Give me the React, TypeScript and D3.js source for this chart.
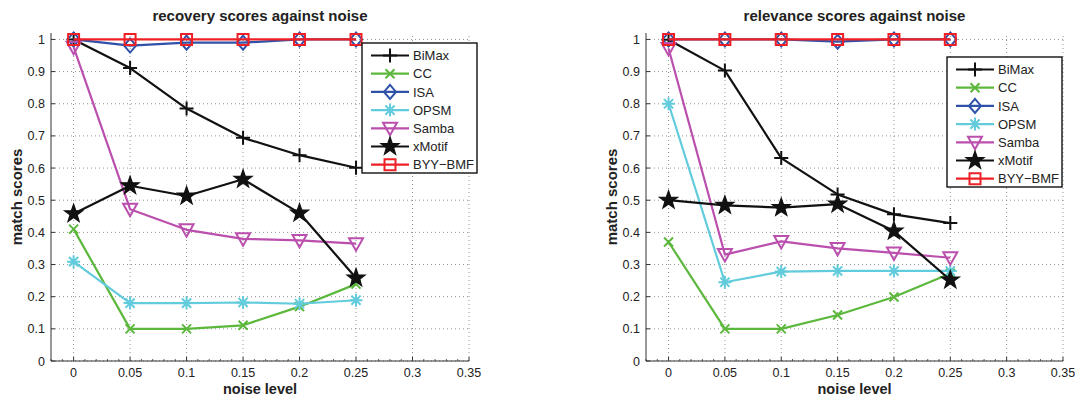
import React from 'react';
import * as d3 from 'd3';

// noise levels on the x axis
const noise = [0, 0.05, 0.1, 0.15, 0.2, 0.25];
const xTicks = [0, 0.05, 0.1, 0.15, 0.2, 0.25, 0.3, 0.35];
const yTicks = [0, 0.1, 0.2, 0.3, 0.4, 0.5, 0.6, 0.7, 0.8, 0.9, 1];
const seriesNames = ['BiMax', 'CC', 'ISA', 'OPSM', 'Samba', 'xMotif', 'BYY\u2212BMF'];

// recovery scores (left panel)
const recBiMax = [1, 0.911, 0.785, 0.694, 0.64, 0.601];
const recCC = [0.41, 0.1, 0.1, 0.111, 0.169, 0.239];
const recISA = [1, 0.981, 0.99, 0.99, 1, 1];
const recOPSM = [0.309, 0.18, 0.18, 0.182, 0.178, 0.189];
const recSamba = [0.976, 0.472, 0.408, 0.38, 0.375, 0.365];
const recXMotif = [0.458, 0.545, 0.513, 0.565, 0.46, 0.258];
const recBYY = [1, 1, 1, 1, 1, 1];

// relevance scores (right panel)
const relBiMax = [0.999, 0.903, 0.631, 0.518, 0.456, 0.429];
const relCC = [0.37, 0.1, 0.1, 0.143, 0.199, 0.272];
const relISA = [1, 1, 1, 0.993, 1, 1];
const relOPSM = [0.8, 0.245, 0.278, 0.28, 0.28, 0.28];
const relSamba = [0.972, 0.331, 0.372, 0.35, 0.336, 0.321];
const relXMotif = [0.5, 0.484, 0.477, 0.488, 0.404, 0.252];
const relBYY = [1, 1, 1, 1, 1, 1];

const colors = ['#111111', '#5cb83c', '#2f52a8', '#62cbdc', '#bb4fae', '#111111', '#ee2026'];
const markers = ['plus', 'cross', 'diamond', 'asterisk', 'triDown', 'star', 'square'];

const FONT = '"Liberation Sans", Arial, Helvetica, sans-serif';

function markerPath(kind: string): string {
  switch (kind) {
    case 'plus':
      return 'M-7,0H7M0,-7V7';
    case 'cross':
      return 'M-4.5,-4.5L4.5,4.5M-4.5,4.5L4.5,-4.5';
    case 'diamond':
      return 'M0,-7L6,0L0,7L-6,0Z';
    case 'asterisk': {
      const a = 4.6;
      return `M-6.5,0H6.5M0,-6.5V6.5M${-a},${-a}L${a},${a}M${-a},${a}L${a},${-a}`;
    }
    case 'triDown':
      return 'M-7,-5.5L7,-5.5L0,7Z';
    case 'square':
      return 'M-5.5,-5.5H5.5V5.5H-5.5Z';
    case 'star': {
      const pts: string[] = [];
      for (let i = 0; i < 10; i++) {
        const r = i % 2 === 0 ? 9.5 : 3.8;
        const ang = -Math.PI / 2 + (i * Math.PI) / 5;
        pts.push(`${(r * Math.cos(ang)).toFixed(2)},${(r * Math.sin(ang)).toFixed(2)}`);
      }
      return 'M' + pts.join('L') + 'Z';
    }
  }
  return '';
}

function Marker({ kind, color, x, y }: { kind: string; color: string; x: number; y: number }) {
  const fill = kind === 'star' ? color : 'none';
  return (
    <path
      d={markerPath(kind)}
      transform={`translate(${x},${y})`}
      fill={fill}
      stroke={color}
      strokeWidth={kind === 'star' ? 1.2 : 2}
      strokeLinejoin="miter"
    />
  );
}

interface PanelProps {
  title: string;
  series: number[][];
  left: number;
  right: number;
  legendX: number;
  legendY: number;
}

function Panel({ title, series, left, right, legendX, legendY }: PanelProps) {
  const top = 33;
  const bottom = 361;
  const x = d3.scaleLinear().domain([-0.02, 0.35]).range([left, right]);
  const y = d3.scaleLinear().domain([0, 1.02]).range([bottom, top]);
  const line = d3
    .line<number>()
    .x((_, i) => x(noise[i]))
    .y((d) => y(d));
  const minor = d3.range(-0.02, 0.3501, 0.01).filter((v) => Math.abs(v / 0.05 - Math.round(v / 0.05)) > 0.01);
  const cx = (left + right) / 2;

  return (
    <g>
      {/* grid */}
      {xTicks.map((t) => (
        <line key={'gx' + t} x1={x(t)} x2={x(t)} y1={bottom} y2={top} stroke="#777" strokeWidth={0.8} strokeDasharray="1 3" />
      ))}
      {yTicks.map((t) => (
        <line key={'gy' + t} x1={left} x2={right} y1={y(t)} y2={y(t)} stroke="#777" strokeWidth={0.8} strokeDasharray="1 3" />
      ))}
      {/* axes */}
      <line x1={left} x2={left} y1={top} y2={bottom} stroke="#333" strokeWidth={1} />
      <line x1={left} x2={right} y1={bottom} y2={bottom} stroke="#333" strokeWidth={1} />
      {xTicks.map((t) => (
        <g key={'tx' + t}>
          <line x1={x(t)} x2={x(t)} y1={bottom} y2={bottom - 4} stroke="#333" />
          <text x={x(t)} y={bottom + 15.5} textAnchor="middle" fontSize={12.5} fill="#222" fontFamily={FONT}>
            {String(t)}
          </text>
        </g>
      ))}
      {minor.map((t, i) => (
        <line key={'mx' + i} x1={x(t)} x2={x(t)} y1={bottom} y2={bottom - 2} stroke="#333" strokeWidth={0.8} />
      ))}
      {yTicks.map((t) => (
        <g key={'ty' + t}>
          <line x1={left} x2={left + 4} y1={y(t)} y2={y(t)} stroke="#333" />
          <text x={left - 6} y={y(t) + 4.5} textAnchor="end" fontSize={12.5} fill="#222" fontFamily={FONT}>
            {String(t)}
          </text>
        </g>
      ))}
      {/* labels */}
      <text x={cx} y={21} textAnchor="middle" fontSize={15} fontWeight="bold" fill="#222" fontFamily={FONT}>
        {title}
      </text>
      <text x={cx} y={393.5} textAnchor="middle" fontSize={14.5} fontWeight="bold" fill="#222" fontFamily={FONT}>
        noise level
      </text>
      <text
        transform={`translate(${left - 29},${(top + bottom) / 2}) rotate(-90)`}
        textAnchor="middle"
        fontSize={15}
        fontWeight="bold"
        fill="#222"
        fontFamily={FONT}
      >
        match scores
      </text>
      {/* series */}
      {series.map((vals, s) => (
        <g key={'s' + s}>
          <path d={line(vals) || ''} fill="none" stroke={colors[s]} strokeWidth={2.2} strokeLinejoin="round" />
          {vals.map((v, i) => (
            <Marker key={i} kind={markers[s]} color={colors[s]} x={x(noise[i])} y={y(v)} />
          ))}
        </g>
      ))}
      {/* legend */}
      <rect x={legendX} y={legendY} width={115} height={130} fill="#fff" stroke="#111" strokeWidth={1.4} />
      {seriesNames.map((name, s) => {
        const ry = legendY + 12.5 + s * 18.2;
        return (
          <g key={'l' + s}>
            <line x1={legendX + 9} x2={legendX + 47} y1={ry} y2={ry} stroke={colors[s]} strokeWidth={2.2} />
            <Marker kind={markers[s]} color={colors[s]} x={legendX + 28} y={ry} />
            <text x={legendX + 51} y={ry + 4.6} fontSize={13} fill="#222" fontFamily={FONT}>
              {name}
            </text>
          </g>
        );
      })}
    </g>
  );
}

export default function App() {
  return (
    <svg
      width={1075}
      height={395}
      style={{ position: 'absolute', left: 0, top: 0, background: '#fff' }}
    >
      <Panel
        title="recovery scores against noise"
        series={[recBiMax, recCC, recISA, recOPSM, recSamba, recXMotif, recBYY]}
        left={51}
        right={469}
        legendX={362}
        legendY={43}
      />
      <Panel
        title="relevance scores against noise"
        series={[relBiMax, relCC, relISA, relOPSM, relSamba, relXMotif, relBYY]}
        left={646}
        right={1063}
        legendX={947}
        legendY={57}
      />
    </svg>
  );
}
